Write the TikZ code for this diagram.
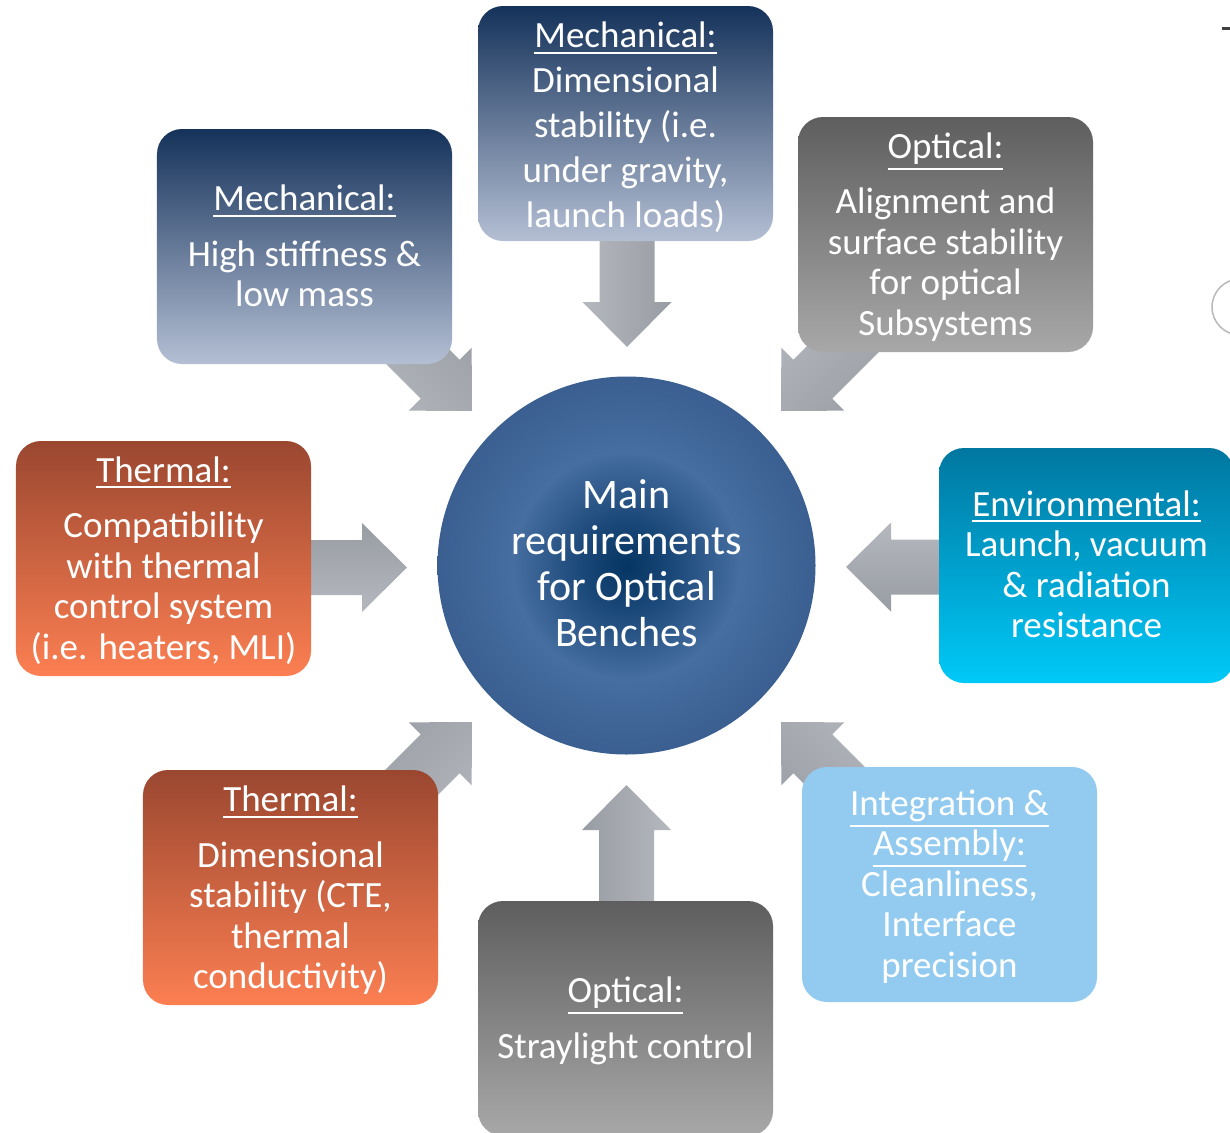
\documentclass[tikz,border=0pt]{standalone}
\usepackage{fontspec}
\setmainfont{Carlito}
\usetikzlibrary{calc}

\definecolor{navyTop}{HTML}{15325A}
\definecolor{navyBot}{HTML}{B4BFD4}
\definecolor{greyTop}{HTML}{5E5E5E}
\definecolor{greyBot}{HTML}{A8A8A8}
\definecolor{rustTop}{HTML}{9A4730}
\definecolor{rustBot}{HTML}{FC7F52}
\definecolor{cyanTop}{HTML}{0077A0}
\definecolor{cyanBot}{HTML}{00C9F8}
\definecolor{skyFill}{HTML}{92CBEF}
\definecolor{arrowDark}{HTML}{989CA3}
\definecolor{arrowLight}{HTML}{B5B8BE}
\definecolor{coreA}{HTML}{053563}
\definecolor{coreB}{HTML}{1A4878}
\definecolor{coreC}{HTML}{466EA0}
\definecolor{coreD}{HTML}{3A5F90}
\definecolor{coreE}{HTML}{2A4D7B}
\definecolor{coreF}{HTML}{1E3C63}

\pgfdeclareradialshading{benchcore}{\pgfpoint{0bp}{0bp}}{%
  color(0bp)=(coreA); color(6bp)=(coreB); color(15bp)=(coreC);
  color(25bp)=(coreD); color(38bp)=(coreE); color(50bp)=(coreF);
  color(75bp)=(coreF)}

% thick underline that keeps the line's own height and depth
\newcommand\requl[1]{\setbox0=\hbox{#1}%
  \raisebox{0pt}[\ht0][\dp0]{\rlap{\vrule height \dimexpr-\dp0-3.5bp\relax
    depth \dimexpr\dp0+5.5bp\relax width \wd0}\copy0}}

\tikzset{
  req/.style={rounded corners=25bp, minimum width=295bp, minimum height=235bp,
    inner sep=0pt},
  navybox/.style={req, top color=navyTop, bottom color=navyBot},
  greybox/.style={req, top color=greyTop, bottom color=greyBot},
  rustbox/.style={req, top color=rustTop, bottom color=rustBot},
  cyanbox/.style={req, top color=cyanTop, bottom color=cyanBot},
  skybox/.style={req, fill=skyFill},
  reqtext/.style={align=center, text=white, inner sep=0pt,
    font=\fontsize{37bp}{40.5bp}\selectfont},
}

% block arrow from #1 (tail) to #2 (tip); #3 = shading angle
\newcommand\blockarrow[3]{%
  \path ($(#2)!45bp!(#1)$) coordinate (hb);
  \shade[top color=arrowDark, bottom color=arrowLight, shading angle=#3]
    ($(#1)!27.5bp!90:(#2)$) -- ($(hb)!27.5bp!90:(#2)$) --
    ($(hb)!44.5bp!90:(#2)$) -- (#2) --
    ($(hb)!44.5bp!-90:(#2)$) -- ($(hb)!27.5bp!-90:(#2)$) --
    ($(#1)!27.5bp!-90:(#2)$) -- cycle;
}

\begin{document}
\begin{tikzpicture}[x=1bp, y=-1bp]
  \useasboundingbox (0,0) rectangle (1230,1133);
  \clip (0,0) rectangle (1230,1133);
  \fill[white] (0,0) rectangle (1230,1133);

  % arrow tails and tips
  \coordinate (sMT) at (627,200);   \coordinate (tMT) at (627,347);
  \coordinate (sML) at (342,281);   \coordinate (tML) at (472,411);
  \coordinate (sOT) at (911,281);   \coordinate (tOT) at (781,411);
  \coordinate (sTL) at (250,567.5); \coordinate (tTL) at (407,567.5);
  \coordinate (sEN) at (1000,567);  \coordinate (tEN) at (846,567);
  \coordinate (sTB) at (342,852);   \coordinate (tTB) at (472,722);
  \coordinate (sIN) at (911,852);   \coordinate (tIN) at (781,722);
  \coordinate (sOB) at (626.5,960); \coordinate (tOB) at (626.5,785);

  \blockarrow{sMT}{tMT}{-90}
  \blockarrow{sML}{tML}{-45}
  \blockarrow{sOT}{tOT}{-135}
  \blockarrow{sTL}{tTL}{0}
  \blockarrow{sEN}{tEN}{180}
  \blockarrow{sTB}{tTB}{45}
  \blockarrow{sIN}{tIN}{135}
  \blockarrow{sOB}{tOB}{90}

  % central requirement
  \node[circle, minimum size=378bp, inner sep=0pt, shade, shading=benchcore]
        (core) at (626.5,565.5) {};
  \node[reqtext, font=\fontsize{42bp}{46bp}\selectfont] (coreText)
        at ($(core.center)+(0,-2)$) {Main\\requirements\\for Optical\\Benches};

  % requirement boxes
  \node[navybox] (mechTop) at (625.5,123.5) {};
  \node[reqtext, font=\fontsize{37bp}{45bp}\selectfont] (mechTopText)
    at ($(mechTop.center)+(0,4)$)
    {\requl{Mechanical:}\\Dimensional\\stability (i.e.\\under gravity,\\launch loads)};

  \node[navybox] (mechLeft) at (304.5,246.5) {};
  \node[reqtext] (mechLeftText) at ($(mechLeft.center)+(0,-0.5)$)
    {\requl{Mechanical:}\\[15bp]High stiffness \&\\low mass};

  \node[greybox] (optTop) at (945.5,234.5) {};
  \node[reqtext] (optTopText) at ($(optTop.center)+(0,2.5)$)
    {\requl{Optical:}\\[15bp]Alignment and\\surface stability\\for optical\\Subsystems};

  \node[rustbox] (thermLeft) at (163.5,558.5) {};
  \node[reqtext] (thermLeftText) at ($(thermLeft.center)+(0,2)$)
    {\requl{Thermal:}\\[15bp]Compatibility\\with thermal\\control system\\(i.e. heaters, MLI)};

  \node[cyanbox] (env) at (1086.5,565.5) {};
  \node[reqtext] (envText) at ($(env.center)+(0,-1)$)
    {\requl{Environmental:}\\Launch, vacuum\\\& radiation\\resistance};

  \node[rustbox] (thermLow) at (290.5,887.5) {};
  \node[reqtext] (thermLowText) at ($(thermLow.center)+(0,3)$)
    {\requl{Thermal:}\\[15bp]Dimensional\\stability (CTE,\\thermal\\conductivity)};

  \node[greybox] (optBottom) at (625.5,1018.5) {};
  \node[reqtext] (optBottomText) at ($(optBottom.center)+(0,2.5)$)
    {\requl{Optical:}\\[15bp]Straylight control};

  \node[skybox] (integ) at (949.5,884.5) {};
  \node[reqtext] (integText) at ($(integ.center)+(0,2)$)
    {\requl{Integration \&}\\\requl{Assembly:}\\Cleanliness,\\Interface\\precision};

  % fragments at the right edge
  \draw[line width=3bp, black!75] (1222,28) -- (1232,28);
  \draw[line width=1.5bp, gray!55] (1240,307) circle (28);
\end{tikzpicture}
\end{document}
